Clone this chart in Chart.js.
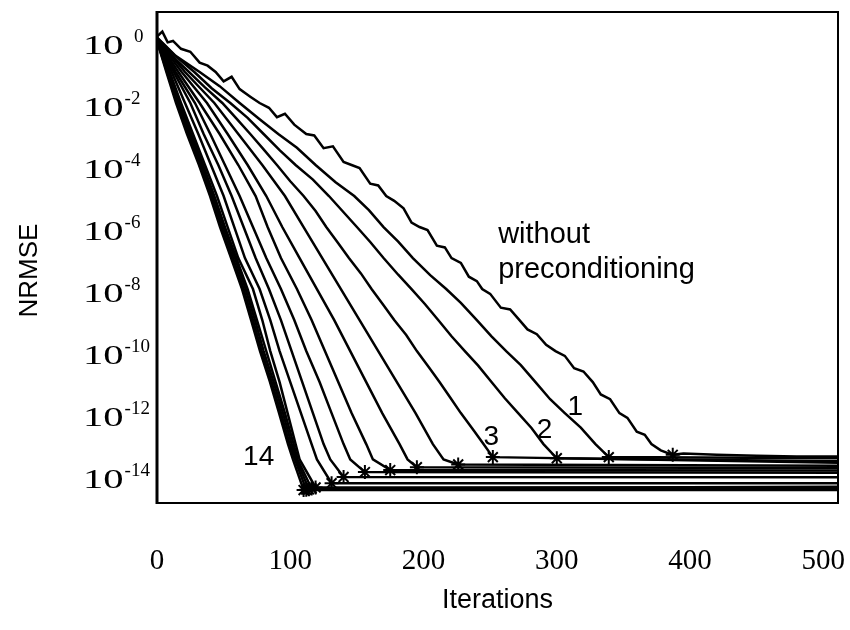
<!DOCTYPE html>
<html>
<head>
<meta charset="utf-8">
<script src="https://cdn.jsdelivr.net/npm/chart.js@4.4.1/dist/chart.umd.min.js"></script>
<style>
  html, body { margin: 0; padding: 0; background: #fff; }
  canvas { display: block; }
</style>
</head>
<body>
<canvas id="c" width="850" height="630"></canvas>
<script>
// ---------------- data ----------------
const xTickValues = [0, 100, 200, 300, 400, 500];
const yTickExponents = [0, -2, -4, -6, -8, -10, -12, -14];
const decadeLevels = [1e-1, 1e-2, 1e-3, 1e-4, 1e-5, 1e-6, 1e-7, 1e-8, 1e-9, 1e-10, 1e-11, 1e-12, 1e-13];

const withoutIter = [0, 4, 8, 12, 18, 25, 32, 38, 44, 50, 56, 62, 70, 77, 84, 90, 96, 103, 112, 118,
  125, 132, 140, 146, 152, 160, 166, 172, 178, 185, 191, 197, 203, 210, 216, 221, 228, 234, 240, 244,
  250, 258, 265, 272, 278, 285, 292, 299, 306, 313, 320, 327, 333, 340, 347, 353, 360, 366, 371, 378,
  387, 395, 420, 450, 480, 511];
const withoutNrmse = [1.4, 2.0, 0.9, 1.0, 0.56, 0.45, 0.2, 0.16, 0.1, 5e-2, 7e-2, 2.8e-2, 1.6e-2, 1e-2, 7e-3, 3.5e-3, 4.5e-3, 2e-3, 1e-3, 9e-4,
  3.5e-4, 4e-4, 1.25e-4, 1e-4, 8e-5, 2.5e-5, 2.2e-5, 1e-5, 7e-6, 4e-6, 1.4e-6, 1e-6, 8e-7, 2.5e-7, 2.2e-7, 1e-7, 7e-8, 2.5e-8, 1.8e-8, 1e-8,
  7e-9, 2.5e-9, 2.2e-9, 1e-9, 5e-10, 3.5e-10, 1.6e-10, 1e-10, 7e-11, 2.8e-11, 2.2e-11, 1e-11, 4e-12, 2.8e-12, 1e-12, 7e-13, 2.5e-13, 2e-13, 1e-13, 6.3e-14,
  4.5e-14, 5e-14, 4.5e-14, 4.2e-14, 4e-14, 4e-14];

const c1Iter = [0, 14, 32, 47, 62, 77, 91, 105, 119, 134, 148, 159, 170, 181, 192, 205, 217, 228, 240, 251, 262, 273, 284, 295, 306, 318, 329, 339, 511];
const c1Nrmse = [1.3, 0.33, 0.1, 3.5e-2, 1e-2, 3e-3, 1e-3, 3.6e-4, 1e-4, 2.8e-5, 1e-5, 3.5e-6, 1e-6, 3.4e-7, 1e-7, 2.8e-8, 1e-8, 3.6e-9, 1e-9, 3e-10, 1e-10, 3.5e-11, 1e-11, 2.8e-12, 1e-12, 3.4e-13, 1e-13, 3.8e-14, 3.5e-14];

const c2Iter = [0, 13, 28, 41, 55, 68, 80, 92, 104, 117, 129, 140, 150, 160, 170, 181, 191, 201, 211, 221, 231, 241, 251, 261, 271, 281, 290, 300, 511];
const c2Nrmse = [1.25, 0.35, 0.1, 3e-2, 1e-2, 3.3e-3, 1e-3, 3e-4, 1e-4, 3.4e-5, 1e-5, 3e-6, 1e-6, 3.3e-7, 1e-7, 2.9e-8, 1e-8, 3.3e-9, 1e-9, 3e-10, 1e-10, 3.4e-11, 1e-11, 3e-12, 1e-12, 3.3e-13, 1e-13, 3.5e-14, 2.8e-14];

const c3Iter = [0, 11, 24, 36, 49, 60, 70, 80, 90, 100, 110, 119, 127, 136, 144, 153, 161, 170, 178, 187, 195, 204, 212, 220, 228, 237, 245, 252, 511];
const c3Nrmse = [1.2, 0.34, 0.1, 3.2e-2, 1e-2, 3e-3, 1e-3, 3.2e-4, 1e-4, 3e-5, 1e-5, 3.3e-6, 1e-6, 3e-7, 1e-7, 3.2e-8, 1e-8, 3e-9, 1e-9, 3.3e-10, 1e-10, 3e-11, 1e-11, 3.2e-12, 1e-12, 3e-13, 1e-13, 3.8e-14, 2.5e-14];

const c4Iter = [0, 21, 43, 61, 79, 96, 110, 124, 138, 152, 166, 180, 194, 207, 215, 226, 511];
const c4Nrmse = [1.2, ...decadeLevels, 3.2e-14, 2.2e-14, 2e-14];
const c5Iter = [0, 18.5, 37.5, 53, 68, 82, 94, 107, 120, 133, 145, 157, 169, 182, 188, 195, 511];
const c5Nrmse = [1.15, ...decadeLevels, 3.2e-14, 1.8e-14, 1.7e-14];
const c6Iter = [0, 16, 32, 47, 61, 74, 83, 93, 105, 116, 126, 136, 146, 157, 162, 175, 511];
const c6Nrmse = [1.1, ...decadeLevels, 3.2e-14, 1.45e-14, 1.4e-14];
const c7Iter = [0, 14, 28.5, 40, 51, 62, 72, 82, 93, 103, 112, 122, 131, 140, 145, 156, 511];
const c7Nrmse = [1.1, ...decadeLevels, 3.2e-14, 1.25e-14, 1.2e-14];
const c8Iter = [0, 12.5, 25, 35, 46, 56, 65, 74, 84, 93, 101, 109, 117, 125, 130, 140, 511];
const c8Nrmse = [1.05, ...decadeLevels, 3.2e-14, 8.7e-15, 8.5e-15];
const c9Iter = [0, 11, 21, 31, 40.5, 50, 58, 66, 77, 85, 92, 100, 108, 116, 120, 131, 511];
const c9Nrmse = [1.05, ...decadeLevels, 3.2e-14, 5.5e-15, 5.5e-15];
const c10Iter = [0, 9.5, 18, 27, 36, 45, 53, 61, 72, 79, 85, 92, 98, 104, 107, 119, 511];
const c10Nrmse = [1.0, ...decadeLevels, 3.2e-14, 4e-15, 4e-15];
const c11Iter = [0, 8.5, 17, 25.5, 34.5, 43, 51, 59.5, 68, 75, 82, 89, 96, 102.5, 105.5, 116, 511];
const c11Nrmse = [1.0, ...decadeLevels, 3.2e-14, 3.7e-15, 4.2e-15];
const c12Iter = [0, 8, 16, 24.5, 33.5, 42, 50, 58.5, 66.5, 73.5, 80, 87.5, 94.5, 101, 104.5, 114, 511];
const c12Nrmse = [1.0, ...decadeLevels, 3.2e-14, 3.5e-15, 3.8e-15];
const c13Iter = [0, 7.5, 15, 23.5, 32.5, 41, 48.5, 57, 65, 72, 78.5, 86, 93, 99.5, 103.5, 112, 511];
const c13Nrmse = [1.0, ...decadeLevels, 3.2e-14, 3.4e-15, 3.6e-15];
const c14Iter = [0, 7, 14.3, 22.5, 31.5, 39.8, 47.3, 55.6, 63.8, 70.6, 77.3, 84.8, 91.6, 98.3, 102, 110, 511];
const c14Nrmse = [1.0, ...decadeLevels, 3.2e-14, 3.3e-15, 3.3e-15];

// convergence markers (the "x" at the end of each descent)
const markerIter = [387, 339, 300, 252, 226, 195, 175, 156, 140, 131, 119, 116, 114, 112, 110];
const markerNrmse = [4.5e-14, 3.8e-14, 3.5e-14, 3.8e-14, 2.2e-14, 1.8e-14, 1.45e-14, 1.25e-14, 8.7e-15, 5.5e-15, 4e-15, 3.7e-15, 3.5e-15, 3.4e-15, 3.3e-15];

const seriesNames = ['without preconditioning', '1', '2', '3', '4', '5', '6', '7', '8', '9', '10', '11', '12', '13', '14'];
const seriesIters = [withoutIter, c1Iter, c2Iter, c3Iter, c4Iter, c5Iter, c6Iter, c7Iter, c8Iter, c9Iter, c10Iter, c11Iter, c12Iter, c13Iter, c14Iter];
const seriesValues = [withoutNrmse, c1Nrmse, c2Nrmse, c3Nrmse, c4Nrmse, c5Nrmse, c6Nrmse, c7Nrmse, c8Nrmse, c9Nrmse, c10Nrmse, c11Nrmse, c12Nrmse, c13Nrmse, c14Nrmse];

// in-plot text labels, anchored in data coordinates (left, baseline)
const noteTexts = ['without', 'preconditioning', '1', '2', '3', '14'];
const noteIters = [256, 256, 308, 285, 245, 64.6];
const noteValues = [3.0e-7, 2.2e-8, 8.7e-13, 1.6e-13, 9.3e-14, 2.1e-14];

// ---------------- chart ----------------
const datasets = seriesNames.map((name, i) => ({
  type: 'line',
  label: name,
  data: seriesIters[i].map((x, k) => ({ x: x, y: seriesValues[i][k] })),
  borderColor: '#000',
  borderWidth: 2.5,
  pointRadius: 0,
  tension: 0,
  fill: false
}));
datasets.push({
  type: 'scatter',
  label: 'converged',
  data: markerIter.map((x, k) => ({ x: x, y: markerNrmse[k] })),
  pointStyle: 'star',
  pointRadius: 7,
  borderColor: '#000',
  backgroundColor: '#000',
  borderWidth: 2,
  showLine: false
});

const framePlugin = {
  id: 'frame',
  afterDatasetsDraw(chart) {
    const { ctx, chartArea: a } = chart;
    ctx.save();
    ctx.strokeStyle = '#000';
    ctx.lineWidth = 2;
    ctx.strokeRect(a.left, a.top, a.right - a.left, a.bottom - a.top);
    ctx.lineWidth = 3;
    ctx.beginPath();
    ctx.moveTo(a.left, a.top - 1);
    ctx.lineTo(a.left, a.bottom + 1);
    ctx.stroke();
    ctx.restore();
  }
};

const yLabelPlugin = {
  id: 'yLabels',
  afterDraw(chart) {
    const s = chart.scales.y;
    const ctx = chart.ctx;
    ctx.save();
    ctx.fillStyle = '#000';
    ctx.textBaseline = 'alphabetic';
    ctx.textAlign = 'left';
    yTickExponents.forEach(e => {
      const py = s.getPixelForValue(Math.pow(10, e));
      ctx.save();
      ctx.font = '28px "Liberation Serif"';
      ctx.translate(83, py + 13);
      ctx.scale(1.45, 1);
      ctx.fillText('10', 0, 0);
      const w = ctx.measureText('10').width * 1.45;
      ctx.restore();
      ctx.font = '19px "Liberation Serif"';
      ctx.fillText(e === 0 ? '  0' : String(e), 83 + w + 1, py + 1);
    });
    // rotated axis title
    ctx.save();
    ctx.font = '26px "Liberation Sans"';
    ctx.textAlign = 'center';
    ctx.textBaseline = 'middle';
    ctx.translate(30, (s.top + s.bottom) / 2 + 13);
    ctx.rotate(-Math.PI / 2);
    ctx.fillText('NRMSE', 0, 0);
    ctx.restore();
    ctx.restore();
  }
};

const notePlugin = {
  id: 'notes',
  afterDatasetsDraw(chart) {
    const ctx = chart.ctx;
    const xs = chart.scales.x, ys = chart.scales.y;
    ctx.save();
    ctx.fillStyle = '#000';
    ctx.textAlign = 'left';
    ctx.textBaseline = 'alphabetic';
    noteTexts.forEach((t, i) => {
      ctx.font = (t.length > 2 ? '29px' : '28px') + ' "Liberation Sans"';
      ctx.fillText(t, xs.getPixelForValue(noteIters[i]), ys.getPixelForValue(noteValues[i]));
    });
    ctx.restore();
  }
};

new Chart(document.getElementById('c'), {
  data: { datasets: datasets },
  options: {
    responsive: false,
    devicePixelRatio: 1,
    animation: false,
    layout: { padding: { top: 12, right: 12, left: 0, bottom: 0 } },
    plugins: { legend: { display: false }, tooltip: { enabled: false } },
    scales: {
      x: {
        type: 'linear',
        min: 0,
        max: 511,
        grid: { display: false, drawTicks: false },
        border: { display: false },
        afterBuildTicks: (scale) => { scale.ticks = xTickValues.map(v => ({ value: v })); },
        afterFit: (scale) => { scale.height = 127; scale.paddingLeft = 0; scale.paddingRight = 0; },
        ticks: {
          color: '#000',
          padding: 41,
          maxRotation: 0,
          autoSkip: false,
          font: { family: '"Liberation Serif"', size: 29 },
          callback: (v) => String(v)
        },
        title: {
          display: true,
          text: 'Iterations',
          color: '#000',
          font: { family: '"Liberation Sans"', size: 27 },
          padding: { top: 0, bottom: 13 }
        }
      },
      y: {
        type: 'logarithmic',
        min: 1.26e-15,
        max: 8.6,
        grid: { display: false, drawTicks: false },
        border: { display: false },
        afterBuildTicks: (scale) => { scale.ticks = yTickExponents.map(e => ({ value: Math.pow(10, e) })); },
        afterFit: (scale) => { scale.width = 157; scale.paddingTop = 0; scale.paddingBottom = 0; },
        ticks: { display: false },
        title: { display: false, text: 'NRMSE' }
      }
    }
  },
  plugins: [framePlugin, notePlugin, yLabelPlugin]
});
</script>
</body>
</html>
